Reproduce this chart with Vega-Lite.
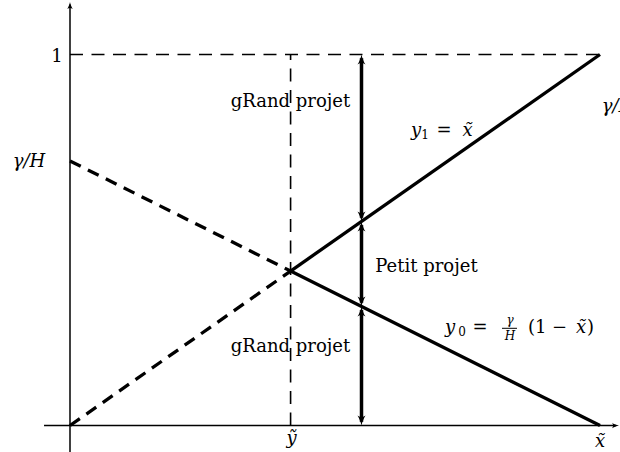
{
  "$schema": "https://vega.github.io/schema/vega-lite/v6.json",
  "width": 620,
  "height": 452,
  "autosize": {"type": "none"},
  "padding": 0,
  "background": "white",
  "config": {"view": {"stroke": null}},
  "datasets": {
    "segs": [
      {"x": -0.049, "y": 0, "x2": 1.03, "y2": 0, "type": "axis"},
      {"x": 0, "y": -0.0714, "x2": 0, "y2": 1.135, "type": "axis"},
      {"x": 0, "y": 1, "x2": 1, "y2": 1, "type": "guide"},
      {"x": 0.4162, "y": 0, "x2": 0.4162, "y2": 1, "type": "guide"},
      {"x": 0, "y": 0, "x2": 0.4162, "y2": 0.4162, "type": "dashed"},
      {"x": 0, "y": 0.713, "x2": 0.4162, "y2": 0.4163, "type": "dashed"},
      {"x": 0.4162, "y": 0.4162, "x2": 1, "y2": 1, "type": "solid"},
      {"x": 0.4162, "y": 0.4163, "x2": 1, "y2": 0, "type": "solid"},
      {"x": 0.55, "y": 0.01, "x2": 0.55, "y2": 0.311, "type": "arrow"},
      {"x": 0.55, "y": 0.331, "x2": 0.55, "y2": 0.54, "type": "arrow"},
      {"x": 0.55, "y": 0.56, "x2": 0.55, "y2": 0.99, "type": "arrow"},
      {"x": 0.8151, "y": 0.262, "x2": 0.8434, "y2": 0.262, "type": "fracbar"}
    ],
    "heads": [
      {"x": 0.55, "y": 1, "dir": "up", "kind": "arrow"},
      {"x": 0.55, "y": 0.55, "dir": "up", "kind": "arrow"},
      {"x": 0.55, "y": 0.3209, "dir": "up", "kind": "arrow"},
      {"x": 0.55, "y": 0.55, "dir": "down", "kind": "arrow"},
      {"x": 0.55, "y": 0.3209, "dir": "down", "kind": "arrow"},
      {"x": 0.55, "y": 0, "dir": "down", "kind": "arrow"},
      {"x": 0, "y": 1.1415, "dir": "up", "kind": "axis"},
      {"x": 1.0358, "y": 0, "dir": "right", "kind": "axis"}
    ],
    "labels": [
      {"x": -0.0245, "y": 0.9811, "text": "1", "type": "word"},
      {"x": -0.0774, "y": 0.6981, "text": "γ/H", "type": "math"},
      {"x": 0.416, "y": 0.8585, "text": "gRand projet", "type": "word"},
      {"x": 0.6528, "y": 0.7803, "text": "y", "type": "math"},
      {"x": 0.6698, "y": 0.7722, "text": "1", "type": "sub"},
      {"x": 0.7057, "y": 0.7803, "text": "=", "type": "word"},
      {"x": 0.75, "y": 0.7803, "text": "x̃", "type": "math"},
      {"x": 1.034, "y": 0.845, "text": "γ/H", "type": "math"},
      {"x": 0.6726, "y": 0.4137, "text": "Petit projet", "type": "word"},
      {"x": 0.416, "y": 0.1981, "text": "gRand projet", "type": "word"},
      {"x": 0.418, "y": -0.05, "text": "ỹ", "type": "math"},
      {"x": 1.0, "y": -0.058, "text": "x̃", "type": "math"},
      {"x": 0.717, "y": 0.2493, "text": "y", "type": "math"},
      {"x": 0.7396, "y": 0.2412, "text": "0", "type": "sub"},
      {"x": 0.7736, "y": 0.2493, "text": "=", "type": "word"},
      {"x": 0.8302, "y": 0.2736, "text": "γ", "type": "frac"},
      {"x": 0.8302, "y": 0.2305, "text": "H", "type": "frac"},
      {"x": 0.901, "y": 0.2493, "text": "(1 −", "type": "word"},
      {"x": 0.9642, "y": 0.2493, "text": "x̃", "type": "math"},
      {"x": 0.982, "y": 0.2493, "text": ")", "type": "word"}
    ]
  },
  "encoding": {
    "x": {"field": "x", "type": "quantitative", "scale": {"domain": [-0.132075, 1.037736], "nice": false, "zero": false}, "axis": null},
    "y": {"field": "y", "type": "quantitative", "scale": {"domain": [-0.071429, 1.1469], "nice": false, "zero": false}, "axis": null}
  },
  "layer": [
    {
      "data": {"name": "segs"},
      "transform": [{"filter": "datum.type === 'axis'"}],
      "mark": {"type": "rule", "color": "black", "strokeWidth": 1.5},
      "encoding": {"x2": {"field": "x2"}, "y2": {"field": "y2"}}
    },
    {
      "data": {"name": "segs"},
      "transform": [{"filter": "datum.type === 'guide'"}],
      "mark": {"type": "rule", "color": "black", "strokeWidth": 1.6, "strokeDash": [13, 8.5]},
      "encoding": {"x2": {"field": "x2"}, "y2": {"field": "y2"}}
    },
    {
      "data": {"name": "segs"},
      "transform": [{"filter": "datum.type === 'dashed'"}],
      "mark": {"type": "rule", "color": "black", "strokeWidth": 3.3, "strokeDash": [12, 8]},
      "encoding": {"x2": {"field": "x2"}, "y2": {"field": "y2"}}
    },
    {
      "data": {"name": "segs"},
      "transform": [{"filter": "datum.type === 'solid'"}],
      "mark": {"type": "rule", "color": "black", "strokeWidth": 3.3},
      "encoding": {"x2": {"field": "x2"}, "y2": {"field": "y2"}}
    },
    {
      "data": {"name": "segs"},
      "transform": [{"filter": "datum.type === 'arrow'"}],
      "mark": {"type": "rule", "color": "black", "strokeWidth": 3.5},
      "encoding": {"x2": {"field": "x2"}, "y2": {"field": "y2"}}
    },
    {
      "data": {"name": "segs"},
      "transform": [{"filter": "datum.type === 'fracbar'"}],
      "mark": {"type": "rule", "color": "black", "strokeWidth": 1},
      "encoding": {"x2": {"field": "x2"}, "y2": {"field": "y2"}}
    },
    {
      "data": {"name": "heads"},
      "transform": [{"filter": "datum.kind === 'arrow' && datum.dir === 'up'"}],
      "mark": {"type": "point", "shape": "M0,0 C0.15,0.7 0.45,1.5 0.8,2 C0.45,1.75 0.2,1.7 0,1.7 C-0.2,1.7 -0.45,1.75 -0.8,2 C-0.45,1.5 -0.15,0.7 0,0 Z", "filled": true, "color": "black", "opacity": 1, "size": 100, "angle": 0}
    },
    {
      "data": {"name": "heads"},
      "transform": [{"filter": "datum.kind === 'arrow' && datum.dir === 'down'"}],
      "mark": {"type": "point", "shape": "M0,0 C0.15,0.7 0.45,1.5 0.8,2 C0.45,1.75 0.2,1.7 0,1.7 C-0.2,1.7 -0.45,1.75 -0.8,2 C-0.45,1.5 -0.15,0.7 0,0 Z", "filled": true, "color": "black", "opacity": 1, "size": 100, "angle": 180}
    },
    {
      "data": {"name": "heads"},
      "transform": [{"filter": "datum.kind === 'axis' && datum.dir === 'up'"}],
      "mark": {"type": "point", "shape": "M0,0 C0.15,0.7 0.45,1.5 0.8,2 C0.45,1.75 0.2,1.7 0,1.7 C-0.2,1.7 -0.45,1.75 -0.8,2 C-0.45,1.5 -0.15,0.7 0,0 Z", "filled": true, "color": "black", "opacity": 1, "size": 49, "angle": 0}
    },
    {
      "data": {"name": "heads"},
      "transform": [{"filter": "datum.kind === 'axis' && datum.dir === 'right'"}],
      "mark": {"type": "point", "shape": "M0,0 C0.15,0.7 0.45,1.5 0.8,2 C0.45,1.75 0.2,1.7 0,1.7 C-0.2,1.7 -0.45,1.75 -0.8,2 C-0.45,1.5 -0.15,0.7 0,0 Z", "filled": true, "color": "black", "opacity": 1, "size": 49, "angle": 90}
    },
    {
      "data": {"name": "labels"},
      "transform": [{"filter": "datum.type === 'word'"}],
      "mark": {"type": "text", "font": "DejaVu Serif", "fontSize": 18, "color": "black", "align": "center", "baseline": "alphabetic"},
      "encoding": {"text": {"field": "text"}}
    },
    {
      "data": {"name": "labels"},
      "transform": [{"filter": "datum.type === 'math'"}],
      "mark": {"type": "text", "font": "DejaVu Serif", "fontStyle": "italic", "fontSize": 18, "color": "black", "align": "center", "baseline": "alphabetic"},
      "encoding": {"text": {"field": "text"}}
    },
    {
      "data": {"name": "labels"},
      "transform": [{"filter": "datum.type === 'sub'"}],
      "mark": {"type": "text", "font": "DejaVu Serif", "fontSize": 12, "color": "black", "align": "center", "baseline": "alphabetic"},
      "encoding": {"text": {"field": "text"}}
    },
    {
      "data": {"name": "labels"},
      "transform": [{"filter": "datum.type === 'frac'"}],
      "mark": {"type": "text", "font": "DejaVu Serif", "fontStyle": "italic", "fontSize": 12, "color": "black", "align": "center", "baseline": "alphabetic"},
      "encoding": {"text": {"field": "text"}}
    }
  ]
}
